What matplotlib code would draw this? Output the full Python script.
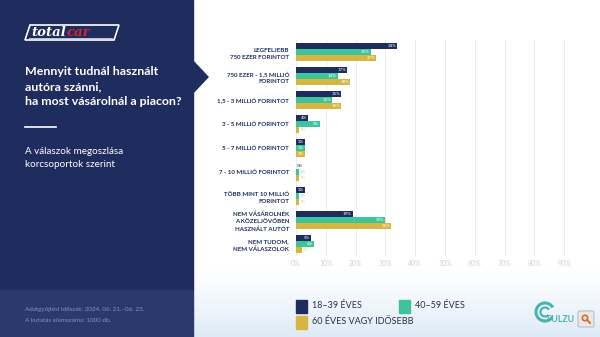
import numpy as np
import matplotlib
matplotlib.use("Agg")
import matplotlib.pyplot as plt
from matplotlib.patches import Rectangle, Polygon, Circle, Arc, FancyBboxPatch

plt.rcParams['font.family'] = ['Lato', 'DejaVu Sans']

categories = [
    "LEGFELJEBB\n750 EZER FORINTOT",
    "750 EZER - 1,5 MILLIÓ\nFORINTOT",
    "1,5 - 3 MILLIÓ FORINTOT",
    "3 - 5 MILLIÓ FORINTOT",
    "5 - 7 MILLIÓ FORINTOT",
    "7 - 10 MILLIÓ FORINTOT",
    "TÖBB MINT 10 MILLIÓ\nFORINTOT",
    "NEM VÁSÁROLNÉK\nA KÖZELJÖVŐBEN\nHASZNÁLT AUTÓT",
    "NEM TUDOM,\nNEM VÁLASZOLOK",
]
series_names = ["18–39 ÉVES", "40–59 ÉVES", "60 ÉVES VAGY IDŐSEBB"]
age_18_39 = [34, 17, 15, 4, 3, 0, 3, 19, 5]
age_40_59 = [25, 14, 12, 8, 3, 1, 1, 30, 6]
age_60_plus = [27, 18, 15, 1, 3, 1, 1, 32, 2]
x_ticks = [0, 10, 20, 30, 40, 50, 60, 70, 80, 90]
x_tick_labels = [f"{t}%" for t in x_ticks]

NAVY = "#1f2d5e"
GREEN = "#3ec49c"
YELLOW = "#d6b640"
PANEL = "#1e2c5e"
FOOT = "#2b3a6c"
colors = [NAVY, GREEN, YELLOW]

W, H = 600, 337
fig = plt.figure(figsize=(6, 3.37), dpi=100)
fig.patch.set_facecolor("white")

def fx(x):
    return x / W

def fy(y):
    return 1 - y / H

# background gradient (bottom right area)
bg = fig.add_axes([0, 0, 1, 1], zorder=0)
bg.set_xlim(0, W)
bg.set_ylim(H, 0)
bg.axis("off")
grad = np.zeros((100, 2, 3))
t = np.linspace(0, 1, 100)[:, None]
top = np.array([1.0, 1.0, 1.0])
bot = np.array([0.87, 0.92, 0.97])
ramp = t ** 1.3
grad[:, :, :] = (top * (1 - ramp) + bot * ramp)[:, None, :]
bg.imshow(grad, extent=[193, W, 337, 266], aspect="auto", zorder=0)

# left panel
bg.add_patch(Rectangle((0, 0), 193, 290, color=PANEL, zorder=1))
bg.add_patch(Rectangle((0, 290), 193, 47, color=FOOT, zorder=1))
bg.add_patch(Polygon([[192, 60], [208, 77], [192, 94]], closed=True, color=PANEL, zorder=1))

# logo
bg.add_patch(Polygon([[30, 25], [119, 25], [114, 40], [25, 40]], closed=True,
                     fill=False, edgecolor="white", lw=1.2, zorder=2))
t_total = bg.text(31, 32.5, "total", color="white", fontsize=9.5, fontweight="bold",
                  style="italic", va="center", ha="left", zorder=3,
                  family=["DejaVu Serif"])
fig.canvas.draw()
ext = t_total.get_window_extent(renderer=fig.canvas.get_renderer())
x_end = ext.x1 * W / fig.bbox.width
bg.text(x_end + 1, 32.5, "car", color="#d8232a", fontsize=9.5, fontweight="bold",
        style="italic", va="center", ha="left", zorder=3, family=["DejaVu Serif"])
bg.plot([29, 112], [37.8, 37.8], color="white", lw=0.5, zorder=3)

# titles
bg.text(25, 66, "Mennyit tudnál használt\nautóra szánni,\nha most vásárolnál a piacon?",
        color="white", fontsize=8.9, fontweight="bold", va="top", ha="left",
        linespacing=1.47, zorder=3)
bg.plot([25, 56], [127, 127], color="white", lw=1.2, zorder=3)
bg.text(25, 147, "A válaszok megoszlása\nkorcsoportok szerint", color="white",
        fontsize=7.1, va="top", ha="left", linespacing=1.62, zorder=3)
bg.text(25, 309, "Adatgyűjtési időszak: 2024. 06. 21.–06. 23.", color="#8a93b5",
        fontsize=4.5, va="center", ha="left", zorder=3)
bg.text(25, 320, "A kutatás elemszáma: 1000 db.", color="#8a93b5",
        fontsize=4.5, va="center", ha="left", zorder=3)

# legend
leg_pos = [(296, 306), (399, 306), (296, 322)]
for (lx, ly), c, name in zip(leg_pos, colors, series_names):
    bg.add_patch(Rectangle((lx, ly - 6.5), 11, 13, color=c, zorder=3))
    bg.text(lx + 16, ly, name, color="#2a2f45", fontsize=6.5, va="center",
            ha="left", zorder=3)

# pulzus logo
bg.add_patch(Arc((545, 312), 18, 18, theta1=40, theta2=330, color="#49b3b0", lw=2.2, zorder=3))
bg.add_patch(Arc((545, 312), 9, 9, theta1=40, theta2=330, color="#49b3b0", lw=1.6, zorder=3))
bg.text(546, 320, "PULZU", color="#49b3b0", fontsize=6.3, fontweight="bold",
        va="center", ha="left", zorder=4)
bg.add_patch(FancyBboxPatch((578, 311), 16, 16, boxstyle="round,pad=0,rounding_size=1.5",
                            facecolor="#e8e8e8", edgecolor="#b0b0b0", lw=0.6, zorder=5))
bg.add_patch(Circle((585, 318), 2.7, fill=False, edgecolor="#e06a2a", lw=1.2, zorder=6))
bg.plot([587, 590], [320, 323], color="#e06a2a", lw=1.4, zorder=6)

# main chart
ax = fig.add_axes([fx(296), fy(256), fx(594) - fx(296), fy(40) - fy(256)], zorder=2)
ax.set_facecolor("none")
n = len(categories)
ypos = np.arange(n)
bh = 0.25
series = [age_18_39, age_40_59, age_60_plus]
for k, (vals, c) in enumerate(zip(series, colors)):
    yy = ypos + (k - 1) * bh
    ax.barh(yy, vals, height=bh, color=c, zorder=3)
    for yv, v in zip(yy, vals):
        if v >= 3:
            ax.text(v - 0.3, yv, f"{v}%", color="white", fontsize=3.2,
                    va="center", ha="right", zorder=4)
        else:
            lc = NAVY if k == 0 else ("#9fe0cc" if k == 1 else "#e6d48f")
            ax.text(v + 0.3, yv, f"{v}%", color=lc, fontsize=3.2,
                    va="center", ha="left", zorder=4)

ax.set_xlim(0, 100)
ax.set_ylim(n - 0.5, -0.5)
ax.set_xticks(x_ticks)
ax.set_xticklabels(x_tick_labels, fontsize=5, color="#cdd2dc")
ax.set_yticks(ypos)
ax.set_yticklabels(categories, fontsize=4.4, fontweight="bold", color=NAVY,
                   linespacing=1.55)
for lbl in ax.get_yticklabels():
    lbl.set_multialignment("right")
ax.tick_params(axis="both", length=0)
ax.tick_params(axis="y", pad=5)
ax.tick_params(axis="x", pad=3)
ax.grid(axis="x", color="#e6e9ef", lw=0.7, zorder=0)
ax.axvline(100, color="#e6e9ef", lw=0.7, zorder=0)
for s in ax.spines.values():
    s.set_visible(False)

fig.savefig("out.png", dpi=100)
